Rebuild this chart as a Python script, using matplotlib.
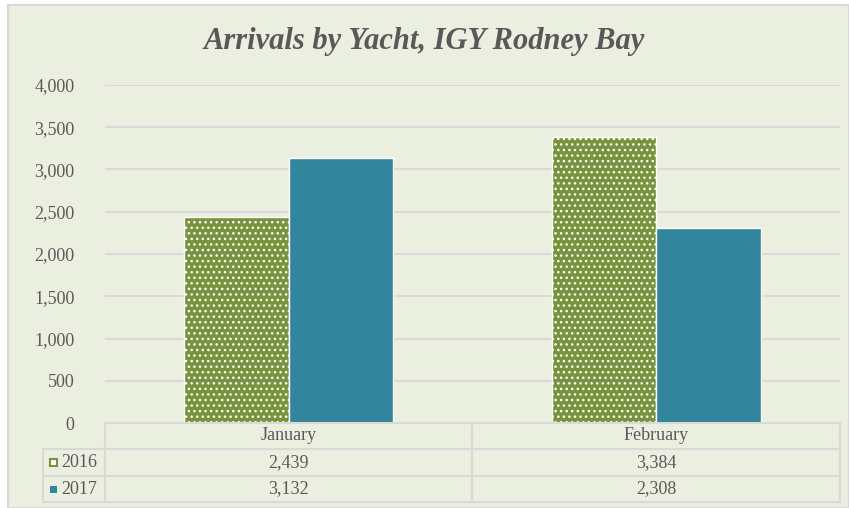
import matplotlib
matplotlib.use('Agg')
import matplotlib.pyplot as plt
from matplotlib.patches import Rectangle
from matplotlib.lines import Line2D
import numpy as np

# data
months = ['January', 'February']
years = ['2016', '2017']
arrivals_2016 = [2439, 3384]
arrivals_2017 = [3132, 2308]
yticks = [0, 500, 1000, 1500, 2000, 2500, 3000, 3500, 4000]

W, H = 849, 508
bg = '#EBEFE0'
grid_c = '#D9D9D9'
txt_c = '#595959'
green = '#77933C'
teal = '#31859C'

plt.rcParams['font.family'] = ['Liberation Serif', 'DejaVu Serif']
plt.rcParams['hatch.linewidth'] = 1.0

fig = plt.figure(figsize=(W / 100, H / 100), dpi=100)
fig.patch.set_facecolor('white')

def fx(px):
    return px / W

def fy(py):
    return 1 - py / H

# chart area background with border
fig.patches.append(Rectangle((fx(8), 0), 1 - fx(8), fy(5), transform=fig.transFigure,
                             facecolor=bg, edgecolor=grid_c, linewidth=1.5, zorder=-5))

ax = fig.add_axes([fx(105), fy(423), fx(840) - fx(105), fy(85) - fy(423)])
ax.set_facecolor('none')

x = np.arange(len(months))
bw = 0.284
ax.bar(x - bw / 2, arrivals_2016, bw, color=green, edgecolor='white', linewidth=1,
       hatch='...', zorder=3)
ax.bar(x + bw / 2, arrivals_2017, bw, color=teal, edgecolor='white', linewidth=1, zorder=3)

ax.set_xlim(-0.5, 1.5)
ax.set_ylim(0, 4000)
ax.set_yticks(yticks)
ax.set_yticklabels([f'{v:,}' for v in yticks], color=txt_c, fontsize=13)
ax.tick_params(axis='y', length=0, pad=22)
ax.set_xticks([])
ax.yaxis.grid(True, color=grid_c, linewidth=1.5, zorder=0)
for s in ax.spines.values():
    s.set_visible(False)

fig.text(0.5, fy(42), 'Arrivals by Yacht, IGY Rodney Bay', ha='center', va='center',
         fontsize=22, fontweight='bold', fontstyle='italic', color=txt_c)

# data table under the plot
col_x = [43, 105, 472, 840]
row_y = [423, 449, 476, 502]
def hline(x0, x1, y):
    fig.lines.append(Line2D([fx(x0), fx(x1)], [fy(y), fy(y)], transform=fig.transFigure,
                            color=grid_c, linewidth=1.5))
def vline(x, y0, y1):
    fig.lines.append(Line2D([fx(x), fx(x)], [fy(y0), fy(y1)], transform=fig.transFigure,
                            color=grid_c, linewidth=1.5))

hline(105, 840, row_y[0])
for yy in row_y[1:]:
    hline(43, 840, yy)
vline(43, row_y[1], row_y[3])
for xx in col_x[1:]:
    vline(xx, row_y[0], row_y[3])

for i, m in enumerate(months):
    cx = (col_x[i + 1] + col_x[i + 2]) / 2
    fig.text(fx(cx), fy((row_y[0] + row_y[1]) / 2), m, ha='center', va='center',
             fontsize=13, color=txt_c)
    for r, vals in enumerate([arrivals_2016, arrivals_2017]):
        fig.text(fx(cx), fy((row_y[r + 1] + row_y[r + 2]) / 2), f'{vals[i]:,}',
                 ha='center', va='center', fontsize=13, color=txt_c)

for r, (yr, c) in enumerate(zip(years, [green, teal])):
    cy = (row_y[r + 1] + row_y[r + 2]) / 2
    fig.text(fx(61), fy(cy), yr, ha='left', va='center', fontsize=13, color=txt_c)
    fc = 'white' if r == 0 else c
    fig.patches.append(Rectangle((fx(50), fy(cy + 3.5)), fx(7), 7 / H, transform=fig.transFigure,
                                 facecolor=fc, edgecolor=c, linewidth=1.5 if r == 0 else 0))

fig.savefig('out.png', dpi=100, facecolor=fig.get_facecolor())
